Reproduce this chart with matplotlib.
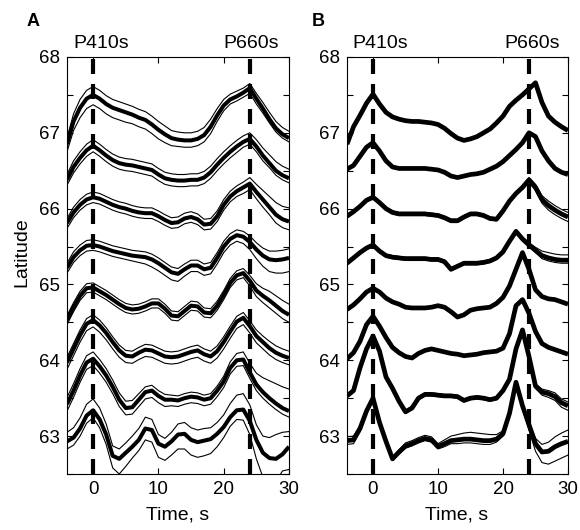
import numpy as np
import matplotlib
matplotlib.use("Agg")
import matplotlib.pyplot as plt

plt.rcParams['font.family'] = ['Liberation Sans', 'DejaVu Sans']

# ---------------- data ----------------
t = np.arange(-4, 31, 1)          # time, s
latitudes = [63, 64, 65, 66, 67, 68]
xticks = [0, 10, 20, 30]
phase_names = ["P410s", "P660s"]
phase_times = [0, 24]

# Panel A: thick (stack) traces, top to bottom
a1 = [66.85,67.15,67.33,67.45,67.50, 67.45,67.38,67.33,67.30,67.27, 67.24,67.20,67.17,67.11,67.04,
      66.98,66.93,66.91,66.90,66.90, 66.92,66.97,67.08,67.23,67.36, 67.44,67.48,67.53,67.59,67.45,
      67.32,67.18,67.06,66.98,66.93]
a2 = [66.38,66.55,66.67,66.77,66.83, 66.77,66.70,66.64,66.60,66.58, 66.57,66.55,66.53,66.51,66.45,
      66.40,66.38,66.37,66.37,66.38, 66.38,66.41,66.48,66.58,66.67, 66.75,66.82,66.88,66.92,66.82,
      66.70,66.60,66.50,66.44,66.40]
a3 = [65.81,65.95,66.05,66.12,66.15, 66.13,66.09,66.05,66.02,66.00, 65.97,65.95,65.94,65.94,65.90,
      65.85,65.81,65.82,65.87,65.89, 65.86,65.79,65.80,65.90,66.05, 66.16,66.23,66.28,66.33,66.22,
      66.12,66.02,65.92,65.86,65.83]
a4 = [65.22,65.36,65.45,65.51,65.52, 65.50,65.47,65.44,65.42,65.40, 65.38,65.37,65.36,65.33,65.28,
      65.22,65.16,65.14,65.20,65.25, 65.25,65.20,65.22,65.35,65.50, 65.60,65.65,65.63,65.56,65.46,
      65.38,65.33,65.32,65.33,65.35]
a5 = [64.53,64.70,64.85,64.95,64.96, 64.91,64.86,64.80,64.74,64.69, 64.67,64.68,64.71,64.75,64.75,
      64.68,64.59,64.58,64.65,64.72, 64.71,64.63,64.62,64.72,64.86, 65.02,65.12,65.15,65.05,64.92,
      64.85,64.79,64.72,64.65,64.60]
a6 = [63.97,64.15,64.33,64.48,64.53, 64.46,64.36,64.24,64.13,64.06, 64.05,64.10,64.14,64.13,64.09,
      64.05,64.04,64.05,64.08,64.11, 64.13,64.08,64.05,64.12,64.24, 64.38,64.51,64.56,64.45,64.32,
      64.24,64.16,64.10,64.06,64.03]
a7 = [63.42,63.60,63.80,63.97,64.02, 63.92,63.80,63.65,63.48,63.37, 63.38,63.48,63.58,63.60,63.53,
      63.48,63.48,63.47,63.50,63.52, 63.51,63.48,63.50,63.60,63.72, 63.90,64.00,64.01,63.84,63.68,
      63.58,63.50,63.43,63.37,63.33]
a8 = [62.93,62.98,63.10,63.27,63.34, 63.22,63.02,62.74,62.70,62.78, 62.86,62.95,63.10,63.08,62.90,
      62.86,62.93,63.02,63.03,62.95, 62.92,62.94,62.96,63.03,63.12, 63.25,63.34,63.35,63.20,62.95,
      62.78,62.71,62.70,62.76,62.86]

# Panel A: thin-trace departures above / below each thick trace
a1_up = [0.08,0.10,0.11,0.11,0.11, 0.11,0.11,0.11,0.11,0.11, 0.11,0.11,0.11,0.11,0.11,
         0.11,0.10,0.10,0.10,0.10, 0.10,0.10,0.10,0.09,0.08, 0.07,0.07,0.06,0.06,0.07,
         0.08,0.09,0.09,0.09,0.09]
a1_lo = [-0.10,-0.12,-0.13,-0.13,-0.13, -0.13,-0.13,-0.13,-0.13,-0.13, -0.12,-0.12,-0.12,-0.12,-0.12,
         -0.11,-0.10,-0.09,-0.09,-0.09, -0.09,-0.09,-0.09,-0.08,-0.07, -0.06,-0.06,-0.06,-0.07,-0.07,
         -0.06,-0.05,-0.05,-0.05,-0.05]
a2_up = [0.07,0.08,0.08,0.08,0.08, 0.08,0.08,0.08,0.08,0.08, 0.08,0.08,0.08,0.08,0.08,
         0.08,0.08,0.08,0.08,0.08, 0.08,0.08,0.08,0.08,0.08, 0.08,0.08,0.08,0.08,0.09,
         0.10,0.11,0.12,0.12,0.12]
a2_lo = [-0.07,-0.08,-0.08,-0.08,-0.08, -0.08,-0.08,-0.08,-0.08,-0.08, -0.08,-0.08,-0.08,-0.08,-0.08,
         -0.08,-0.08,-0.08,-0.08,-0.08, -0.08,-0.08,-0.08,-0.08,-0.08, -0.08,-0.08,-0.07,-0.07,-0.07,
         -0.07,-0.06,-0.06,-0.06,-0.06]
a3_up = [0.06,0.07,0.07,0.07,0.07, 0.07,0.07,0.07,0.07,0.07, 0.07,0.07,0.07,0.07,0.07,
         0.07,0.07,0.07,0.07,0.07, 0.07,0.07,0.07,0.07,0.07, 0.07,0.07,0.07,0.08,0.10,
         0.12,0.14,0.16,0.17,0.18]
a3_lo = [-0.07,-0.07,-0.07,-0.07,-0.07, -0.07,-0.07,-0.07,-0.07,-0.07, -0.07,-0.07,-0.07,-0.07,-0.07,
         -0.07,-0.07,-0.07,-0.07,-0.07, -0.07,-0.07,-0.07,-0.07,-0.07, -0.07,-0.07,-0.08,-0.08,-0.09,
         -0.10,-0.10,-0.11,-0.11,-0.11]
a4_up = [0.06,0.07,0.07,0.07,0.07, 0.07,0.07,0.07,0.07,0.07, 0.07,0.07,0.07,0.07,0.07,
         0.07,0.07,0.07,0.07,0.07, 0.07,0.07,0.07,0.07,0.07, 0.07,0.07,0.07,0.08,0.09,
         0.10,0.11,0.12,0.12,0.12]
a4_lo = [-0.07,-0.07,-0.07,-0.07,-0.07, -0.07,-0.07,-0.07,-0.07,-0.07, -0.07,-0.08,-0.09,-0.10,-0.10,
         -0.10,-0.10,-0.10,-0.09,-0.08, -0.08,-0.08,-0.08,-0.08,-0.08, -0.08,-0.08,-0.09,-0.10,-0.12,
         -0.14,-0.16,-0.17,-0.18,-0.18]
a5_up = [0.06,0.06,0.06,0.06,0.06, 0.06,0.06,0.06,0.06,0.06, 0.06,0.06,0.06,0.06,0.06,
         0.06,0.06,0.06,0.06,0.06, 0.06,0.06,0.06,0.06,0.06, 0.06,0.06,0.06,0.07,0.09,
         0.10,0.12,0.13,0.14,0.14]
a5_lo = [-0.06,-0.06,-0.06,-0.06,-0.06, -0.06,-0.06,-0.06,-0.06,-0.06, -0.06,-0.06,-0.06,-0.06,-0.06,
         -0.06,-0.06,-0.06,-0.06,-0.06, -0.06,-0.06,-0.06,-0.06,-0.06, -0.06,-0.06,-0.06,-0.07,-0.08,
         -0.09,-0.10,-0.10,-0.10,-0.10]
a6_up = [0.07,0.07,0.07,0.07,0.07, 0.07,0.07,0.07,0.07,0.07, 0.07,0.07,0.07,0.07,0.07,
         0.07,0.07,0.07,0.07,0.07, 0.07,0.07,0.07,0.07,0.07, 0.07,0.07,0.07,0.07,0.08,
         0.08,0.09,0.09,0.09,0.09]
a6_lo = [-0.09,-0.09,-0.09,-0.09,-0.09, -0.09,-0.09,-0.09,-0.09,-0.09, -0.09,-0.09,-0.09,-0.09,-0.09,
         -0.09,-0.09,-0.09,-0.09,-0.09, -0.09,-0.09,-0.09,-0.09,-0.09, -0.09,-0.09,-0.09,-0.09,-0.09,
         -0.09,-0.09,-0.09,-0.09,-0.09]
a7_up = [0.09,0.09,0.09,0.09,0.09, 0.09,0.09,0.09,0.09,0.09, 0.09,0.08,0.07,0.07,0.07,
         0.07,0.06,0.06,0.06,0.06, 0.06,0.06,0.06,0.06,0.07, 0.08,0.09,0.10,0.12,0.15,
         0.19,0.23,0.26,0.28,0.29]
a7_lo = [-0.09,-0.09,-0.09,-0.09,-0.09, -0.09,-0.09,-0.09,-0.09,-0.09, -0.09,-0.09,-0.09,-0.09,-0.09,
         -0.09,-0.08,-0.08,-0.08,-0.08, -0.08,-0.08,-0.08,-0.08,-0.08, -0.08,-0.08,-0.08,-0.08,-0.08,
         -0.08,-0.08,-0.08,-0.08,-0.08]
a8_up = [0.12,0.13,0.14,0.15,0.15, 0.15,0.14,0.13,0.13,0.13, 0.14,0.15,0.15,0.14,0.12,
         0.11,0.12,0.14,0.15,0.16, 0.16,0.16,0.15,0.15,0.16, 0.18,0.20,0.21,0.21,0.20,
         0.22,0.27,0.32,0.29,0.20]
a8_lo = [-0.10,-0.10,-0.10,-0.10,-0.10, -0.11,-0.13,-0.16,-0.20,-0.18, -0.15,-0.14,-0.15,-0.16,-0.18,
         -0.18,-0.18,-0.19,-0.20,-0.20, -0.20,-0.20,-0.19,-0.17,-0.14, -0.12,-0.12,-0.14,-0.18,-0.25,
         -0.32,-0.36,-0.30,-0.22,-0.30]

# Panel B: thick (stack) traces, top to bottom
b1 = [66.85,67.08,67.23,67.39,67.51, 67.38,67.27,67.21,67.18,67.16, 67.15,67.15,67.14,67.13,67.11,
      67.06,66.99,66.93,66.90,66.92, 66.95,67.00,67.05,67.13,67.22, 67.35,67.43,67.50,67.58,67.66,
      67.40,67.22,67.14,67.08,67.03]
b2 = [66.52,66.57,66.69,66.81,66.87, 66.76,66.63,66.55,66.53,66.53, 66.53,66.53,66.53,66.52,66.51,
      66.48,66.43,66.41,66.43,66.45, 66.46,66.48,66.52,66.56,66.62, 66.70,66.78,66.87,67.00,66.95,
      66.76,66.63,66.53,66.48,66.45]
b3 = [65.90,65.96,66.03,66.11,66.15, 66.08,66.00,65.95,65.93,65.93, 65.93,65.93,65.93,65.92,65.91,
      65.88,65.84,65.84,65.89,65.93, 65.93,65.91,65.87,65.86,65.97, 66.10,66.20,66.28,66.38,66.28,
      66.12,66.04,65.98,65.93,65.89]
b4 = [65.28,65.35,65.42,65.48,65.52, 65.44,65.38,65.36,65.35,65.34, 65.34,65.34,65.34,65.33,65.33,
      65.30,65.20,65.24,65.28,65.28, 65.28,65.29,65.31,65.35,65.43, 65.57,65.70,65.60,65.52,65.45,
      65.38,65.35,65.33,65.32,65.32]
b5 = [64.67,64.73,64.81,64.90,64.95, 64.90,64.82,64.77,64.74,64.70, 64.69,64.69,64.69,64.70,64.72,
      64.70,64.64,64.57,64.60,64.66, 64.68,64.69,64.70,64.75,64.83, 64.98,65.20,65.42,65.20,64.93,
      64.84,64.81,64.80,64.77,64.74]
b6 = [64.02,64.10,64.25,64.47,64.58, 64.45,64.30,64.17,64.10,64.05, 64.03,64.09,64.13,64.15,64.13,
      64.11,64.09,64.08,64.06,64.07, 64.08,64.10,64.11,64.12,64.16, 64.35,64.72,64.80,64.62,64.38,
      64.22,64.17,64.14,64.11,64.08]
b7 = [63.53,63.60,63.90,64.15,64.32, 64.12,63.78,63.63,63.46,63.32, 63.37,63.50,63.55,63.55,63.54,
      63.53,63.53,63.52,63.47,63.50, 63.51,63.50,63.48,63.50,63.60, 63.75,64.15,64.40,64.05,63.66,
      63.58,63.56,63.52,63.44,63.40]
b8 = [62.94,62.95,63.10,63.33,63.50, 63.18,62.93,62.70,62.79,62.87, 62.90,62.94,62.97,62.95,62.86,
      62.90,62.94,62.95,62.96,62.96, 62.95,62.94,62.94,62.96,63.03, 63.30,63.71,63.40,63.15,62.90,
      62.79,62.80,62.86,62.90,62.93]

# Panel B: thin-trace departures (only where they show beside the thick line)
b3_up = [0.02,0.02,0.02,0.02,0.02, 0.02,0.02,0.02,0.02,0.02, 0.02,0.02,0.02,0.02,0.02,
         0.02,0.02,0.02,0.02,0.02, 0.02,0.02,0.02,0.02,0.02, 0.02,0.02,0.02,0.03,0.04,
         0.05,0.06,0.06,0.06,0.06]
b3_lo = [-0.02,-0.02,-0.02,-0.02,-0.02, -0.02,-0.02,-0.02,-0.02,-0.02, -0.02,-0.02,-0.02,-0.02,-0.02,
         -0.02,-0.02,-0.02,-0.02,-0.02, -0.02,-0.02,-0.02,-0.02,-0.02, -0.02,-0.02,-0.02,-0.03,-0.04,
         -0.05,-0.06,-0.06,-0.06,-0.06]
b4_up = [0.02,0.02,0.02,0.02,0.02, 0.02,0.02,0.02,0.02,0.02, 0.02,0.02,0.02,0.02,0.02,
         0.02,0.02,0.02,0.02,0.02, 0.02,0.02,0.02,0.02,0.02, 0.02,0.02,0.02,0.03,0.04,
         0.06,0.07,0.07,0.07,0.07]
b4_lo = [-0.02,-0.02,-0.02,-0.02,-0.02, -0.02,-0.02,-0.02,-0.02,-0.02, -0.02,-0.02,-0.02,-0.02,-0.02,
         -0.02,-0.02,-0.02,-0.02,-0.02, -0.02,-0.02,-0.02,-0.02,-0.02, -0.02,-0.02,-0.02,-0.02,-0.03,
         -0.04,-0.04,-0.04,-0.04,-0.04]
b7_up = [0.02,0.02,0.02,0.02,0.02, 0.02,0.02,0.02,0.02,0.02, 0.02,0.02,0.02,0.02,0.02,
         0.02,0.02,0.02,0.02,0.02, 0.02,0.02,0.02,0.02,0.02, 0.02,0.02,0.02,0.02,0.03,
         0.04,0.04,0.05,0.05,0.05]
b7_lo = [-0.02,-0.02,-0.02,-0.02,-0.02, -0.02,-0.02,-0.02,-0.02,-0.02, -0.02,-0.02,-0.02,-0.02,-0.02,
         -0.02,-0.02,-0.02,-0.02,-0.02, -0.02,-0.02,-0.02,-0.02,-0.02, -0.02,-0.02,-0.02,-0.02,-0.03,
         -0.04,-0.05,-0.05,-0.06,-0.06]
b8_up = [0.05,0.05,0.04,0.03,0.02, 0.02,0.02,0.02,0.03,0.04, 0.04,0.04,0.04,0.04,0.04,
         0.05,0.06,0.07,0.08,0.09, 0.09,0.09,0.08,0.06,0.04, 0.03,0.02,0.02,0.04,0.07,
         0.10,0.12,0.13,0.14,0.15]
b8_lo = [-0.05,-0.05,-0.04,-0.03,-0.02, -0.02,-0.02,-0.02,-0.03,-0.03, -0.03,-0.03,-0.03,-0.03,-0.03,
         -0.04,-0.04,-0.05,-0.05,-0.05, -0.05,-0.05,-0.05,-0.04,-0.03, -0.02,-0.02,-0.04,-0.07,-0.10,
         -0.14,-0.17,-0.19,-0.19,-0.18]

panel_A = [(a1, a1_up, a1_lo), (a2, a2_up, a2_lo), (a3, a3_up, a3_lo), (a4, a4_up, a4_lo),
           (a5, a5_up, a5_lo), (a6, a6_up, a6_lo), (a7, a7_up, a7_lo), (a8, a8_up, a8_lo)]
panel_B = [(b1, None, None), (b2, None, None), (b3, b3_up, b3_lo), (b4, b4_up, b4_lo),
           (b5, None, None), (b6, None, None), (b7, b7_up, b7_lo), (b8, b8_up, b8_lo)]

# ---------------- figure ----------------
W, H = 580, 530
fig = plt.figure(figsize=(W / 100, H / 100), dpi=100)


def fx(x):
    return x / W


def fy(y):
    return 1 - y / H


def add_axes(x0, x1, y0, y1):
    return fig.add_axes([fx(x0), fy(y1), fx(x1) - fx(x0), fy(y0) - fy(y1)])


axA = add_axes(67, 289, 57, 474)
axB = add_axes(347, 568, 57, 474)

for ax, panel, thick_lw in ((axA, panel_A, 2.9), (axB, panel_B, 3.4)):
    for thick, up, lo in panel:
        thick = np.asarray(thick)
        if up is not None:
            ax.plot(t, thick + np.asarray(up), color='black', lw=0.8, zorder=2,
                    solid_joinstyle='round')
            ax.plot(t, thick + np.asarray(lo), color='black', lw=0.8, zorder=2,
                    solid_joinstyle='round')
        ax.plot(t, thick, color='black', lw=thick_lw, zorder=3,
                solid_joinstyle='round', solid_capstyle='butt')
    for pt in phase_times:
        ax.axvline(pt, color='black', lw=3.0, linestyle=(0, (3.6, 2.4)), zorder=4)
    ax.set_xlim(-4, 30)
    ax.set_ylim(62.5, 68)
    ax.set_xticks(xticks)
    ax.set_xticklabels([str(v) for v in xticks], fontsize=13.5)
    yt = np.arange(62.5, 68.01, 0.5)
    ax.set_yticks(yt)
    ax.set_yticklabels([str(int(v)) if abs(v - round(v)) < 1e-6 else '' for v in yt], fontsize=13.5)
    ax.tick_params(direction='in', top=True, right=True, length=4, width=0.8, pad=5)
    for s in ax.spines.values():
        s.set_linewidth(0.8)

# axis labels
fig.text(fx(22), fy(252), "Latitude", rotation=90, ha='center', va='center', fontsize=14)
fig.text(fx(178), fy(515), "Time, s", ha='center', va='center', fontsize=14)
fig.text(fx(457), fy(515), "Time, s", ha='center', va='center', fontsize=14)

# panel letters and phase names
fig.text(fx(33), fy(22), "A", ha='center', va='center', fontsize=13, fontweight='bold')
fig.text(fx(318), fy(22), "B", ha='center', va='center', fontsize=13, fontweight='bold')
for cx, name in zip((101, 251), phase_names):
    fig.text(fx(cx), fy(43), name, ha='center', va='center', fontsize=14)
for cx, name in zip((380, 532), phase_names):
    fig.text(fx(cx), fy(43), name, ha='center', va='center', fontsize=14)

fig.savefig("out.png", dpi=100)
